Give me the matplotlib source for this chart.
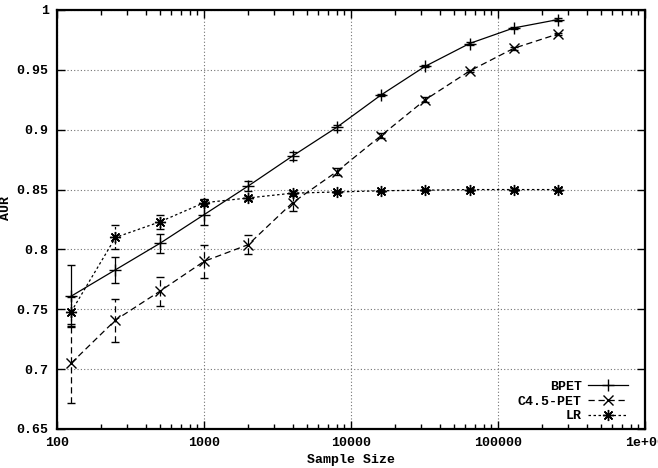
import matplotlib
matplotlib.use("Agg")
import matplotlib.pyplot as plt
from matplotlib.ticker import LogLocator, FixedLocator, NullFormatter

sizes = [125, 250, 500, 1000, 2000, 4000, 8000, 16000, 32000, 64000, 128000, 256000]
bpet = [0.761, 0.783, 0.805, 0.829, 0.853, 0.878, 0.902, 0.929, 0.953, 0.972, 0.985, 0.992]
bpet_err = [0.026, 0.011, 0.008, 0.009, 0.004, 0.003, 0.002, 0.001, 0.001, 0.001, 0.001, 0.001]
c45 = [0.705, 0.741, 0.765, 0.790, 0.804, 0.839, 0.865, 0.895, 0.925, 0.949, 0.968, 0.980]
c45_err = [0.033, 0.018, 0.012, 0.014, 0.008, 0.007, 0.003, 0.002, 0.002, 0.001, 0.001, 0.001]
lr = [0.748, 0.810, 0.823, 0.839, 0.843, 0.847, 0.848, 0.849, 0.8495, 0.850, 0.850, 0.850]
lr_err = [0.012, 0.010, 0.006, 0.003, 0.002, 0.002, 0.001, 0.001, 0.001, 0.001, 0.001, 0.001]

yticks = [0.65, 0.7, 0.75, 0.8, 0.85, 0.9, 0.95, 1.0]
ytick_labels = ["0.65", "0.7", "0.75", "0.8", "0.85", "0.9", "0.95", "1"]
xticks = [100, 1000, 10000, 100000, 1000000]
xtick_labels = ["100", "1000", "10000", "100000", "1e+06"]

font = {"family": "Liberation Mono", "weight": "bold", "size": 9.5}
plt.rcParams["font.family"] = "Liberation Mono"
plt.rcParams["font.weight"] = "bold"

fig = plt.figure(figsize=(6.58, 4.68), dpi=100)
ax = fig.add_axes([57/658, 1-429/468, (645-57)/658, (429-10)/468])

series = [
    ("BPET", bpet, bpet_err, "-", "+", 8),
    ("C4.5-PET", c45, c45_err, (0, (5, 3)), "x", 7),
    ("LR", lr, lr_err, (0, (2, 2)), (8, 2, 0), 8),
]
handles = []
for name, vals, errs, ls, mk, ms in series:
    cont = ax.errorbar(sizes, vals, yerr=errs, color="black", lw=0.9, ls=ls,
                       marker=mk, ms=ms, mew=1.0, capsize=3, elinewidth=0.9,
                       capthick=0.9, label=name)
    for lc in cont[2]:
        lc.set_linestyle(ls)
    (line,) = ax.plot([], [], color="black", lw=0.9, ls=ls, marker=mk, ms=ms, mew=1.0, label=name)
    handles.append(line)

ax.set_xscale("log")
ax.set_xlim(100, 1000000)
ax.set_ylim(0.65, 1.0)
ax.xaxis.set_major_locator(FixedLocator(xticks))
ax.set_xticklabels(xtick_labels, fontdict=font)
ax.xaxis.set_minor_locator(LogLocator(base=10, subs=range(2, 10)))
ax.xaxis.set_minor_formatter(NullFormatter())
ax.set_yticks(yticks)
ax.set_yticklabels(ytick_labels, fontdict=font)

ax.grid(True, which="major", color="0.45", ls=(0, (1, 2)), lw=0.8)
ax.tick_params(which="both", direction="in", top=True, right=True, color="black")
ax.tick_params(which="major", length=6, width=1, pad=6)
ax.tick_params(which="minor", length=3.5, width=1)
for sp in ax.spines.values():
    sp.set_linewidth(1.6)

ax.set_xlabel("Sample Size", fontdict=font, labelpad=3)
ax.set_ylabel("AUR", fontdict=font)
ax.yaxis.set_label_coords(-0.076, 0.527)

ax.legend(handles=handles, loc="lower right", frameon=False, markerfirst=False,
          prop={"family": "Liberation Mono", "weight": "bold", "size": 9.5},
          handlelength=3.0, handletextpad=0.5, labelspacing=0.2,
          borderaxespad=0, bbox_to_anchor=(1 - 0.02, 0.003))

fig.savefig("out.png", dpi=100)
